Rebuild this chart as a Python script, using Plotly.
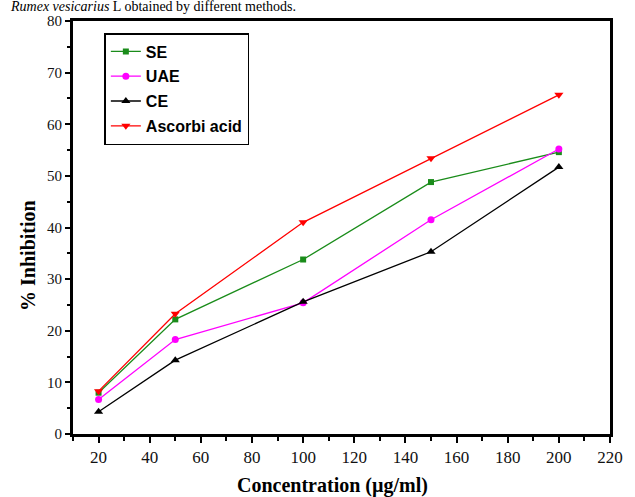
import plotly.graph_objects as go

conc = [20, 50, 100, 150, 200]
se = [8.0, 22.2, 33.8, 48.8, 54.6]
uae = [6.7, 18.3, 25.4, 41.5, 55.2]
ce = [4.3, 14.3, 25.6, 35.3, 51.7]
asc = [8.3, 23.3, 41.0, 53.4, 65.7]

names = ["SE", "UAE", "CE", "Ascorbi acid"]
colors = ["#1a8c1a", "#ff00ff", "#000000", "#ff0000"]
symbols = ["square", "circle", "triangle-up", "triangle-down"]
sizes = [6, 7, 8, 8]
series = [se, uae, ce, asc]

fig = go.Figure()
for i, (nm, c, s, sz, ys) in enumerate(zip(names, colors, symbols, sizes, series)):
    fig.add_trace(go.Scatter(
        x=conc, y=ys, name=nm, mode="lines+markers",
        line=dict(color=c, width=1.3),
        marker=dict(symbol=s, size=sz, color=c),
        legendgroup=f"g{i}",
    ))

W, H = 635, 497
L, R, T, B = 73, 14, 21, 63
PW, PH = W - L - R, H - T - B
fig.update_layout(
    width=W, height=H,
    margin=dict(l=L, r=R, t=T, b=B, pad=0),
    paper_bgcolor="white", plot_bgcolor="white",
    showlegend=True,
    legend=dict(
        x=(105 - L) / PW, y=(H - B - 33) / PH,
        xanchor="left", yanchor="top",
        bgcolor="white", bordercolor="black", borderwidth=1.5,
        font=dict(family="Liberation Sans, Arial", size=16, color="black", weight="bold"),
        traceorder="grouped", tracegroupgap=1,
        itemwidth=30,
    ),
    xaxis=dict(
        range=[10, 220], tickmode="linear", tick0=20, dtick=20,
        ticks="outside", ticklen=6, tickwidth=2, tickcolor="black",
        minor=dict(ticks="outside", ticklen=4, tickwidth=2, tickcolor="black", dtick=10, tick0=10),
        showline=True, linecolor="black", linewidth=3, mirror=True,
        showgrid=False, zeroline=False,
        tickfont=dict(family="Liberation Serif, Times New Roman", size=17, color="#111"),
    ),
    yaxis=dict(
        range=[0, 80], tickmode="linear", tick0=0, dtick=10,
        ticks="outside", ticklen=5, tickwidth=2, tickcolor="black",
        minor=dict(ticks="outside", ticklen=3, tickwidth=2, tickcolor="black", dtick=5),
        showline=True, linecolor="black", linewidth=3, mirror=True,
        showgrid=False, zeroline=False,
        tickfont=dict(family="Liberation Serif, Times New Roman", size=15, color="#111"),
    ),
)

fig.add_annotation(
    text="<i>Rumex vesicarius</i> L obtained by different methods.",
    xref="paper", yref="paper", x=-L / PW, y=1 + T / PH,
    xanchor="left", yanchor="top", showarrow=False,
    xshift=8, yshift=2, borderpad=0,
    font=dict(family="Liberation Serif, Times New Roman", size=14, color="black"),
)
fig.add_annotation(
    text="% Inhibition", textangle=-90,
    xref="paper", yref="paper", x=(27 - L) / PW, y=(H - B - 255) / PH,
    xanchor="center", yanchor="middle", showarrow=False,
    font=dict(family="Liberation Serif, Times New Roman", size=20, color="black", weight="bold"),
)
fig.add_annotation(
    text="Concentration (µg/ml)",
    xref="paper", yref="paper", x=(338 - L) / PW, y=-(485 - (H - B)) / PH,
    xanchor="center", yanchor="middle", showarrow=False,
    font=dict(family="Liberation Serif, Times New Roman", size=20, color="black", weight="bold"),
)

fig.write_html("out.html")
